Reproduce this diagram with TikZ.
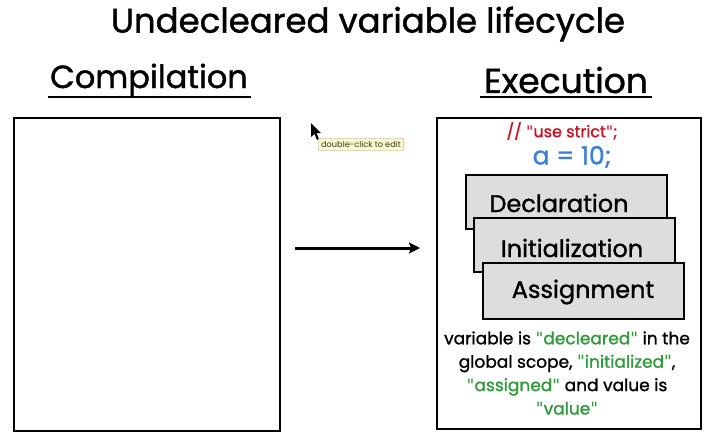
\documentclass[tikz,border=0pt]{standalone}
\usepackage{fontspec}
\setmainfont{Poppins}[FakeBold=1.2]
\newfontfamily\tipfont{Poppins}
\newfontfamily\qfont{DejaVu Sans}
\newcommand\dq{{\qfont"}}
\usetikzlibrary{arrows.meta}
\definecolor{jsred}{HTML}{C8101E}
\definecolor{jsblue}{HTML}{3A7FD9}
\definecolor{jsgreen}{HTML}{2E9A3A}
\definecolor{boxgray}{HTML}{DDDDDD}
\definecolor{tipfill}{HTML}{FCFCCB}
\tikzset{
  panel/.style={draw=black, line width=1.6pt, fill=white},
  stagebox/.style={draw=black, line width=1.8pt, fill=boxgray, minimum width=201pt, minimum height=54pt, inner sep=0pt, anchor=north west},
  stagelabel/.style={font=\fontsize{24}{28}\selectfont, inner sep=0pt},
}
\begin{document}
\begin{tikzpicture}[x=1pt,y=-1pt]
\useasboundingbox[fill=white] (0,0) rectangle (719,440);
% title
\node[font=\fontsize{34}{38}\selectfont, inner sep=0pt] (title) at (368,24) {Undecleared variable lifecycle};
% headings
\node[font=\fontsize{32}{36}\selectfont, inner sep=0pt] (comp) at (149,80) {Compilation};
\node[font=\fontsize{34.5}{38}\selectfont, inner sep=0pt] (exec) at (566,80) {Execution};
\coordinate (cul1) at (48,97); \coordinate (cul2) at (251,97);
\coordinate (eul1) at (480,97); \coordinate (eul2) at (652,97);
\draw[line width=1.8pt] (cul1) -- (cul2);
\draw[line width=1.8pt] (eul1) -- (eul2);
% panels
\node[panel, minimum width=266pt, minimum height=313pt, anchor=north west, inner sep=0pt] (left) at (13,117) {};
\node[panel, minimum width=264pt, minimum height=311pt, anchor=north west, inner sep=0pt] (right) at (436,117) {};
% arrow
\coordinate (a1) at (295,248);
\coordinate (a2) at (420,248);
\draw[line width=3pt, -{Stealth[length=11pt,width=11pt,inset=2pt]}] (a1) -- (a2);
% code text
\node[text=jsred, font=\fontsize{16}{19}\selectfont, inner sep=0pt] (strict) at (562,131) {// \dq use strict\dq;};
\node[text=jsblue, font=\fontsize{25}{28}\selectfont, inner sep=0pt] (assign) at (572,157) {a = 10;};
% stacked boxes
\node[stagebox] (decl) at (465,174) {};
\node[stagebox] (init) at (473,217) {};
\node[stagebox, minimum height=56pt] (asg) at (482,262) {};
\node[stagelabel] (decll) at (559,203) {Declaration};
\node[stagelabel] (initl) at (572,248) {Initialization};
\node[stagelabel] (asgl) at (583,292) {Assignment};
% description
\node[font=\fontsize{17}{23.4}\selectfont, align=center, inner sep=0pt] (desc) at (567,373)
 {variable is \textcolor{jsgreen}{\dq decleared\dq} in the\\
  global scope, \textcolor{jsgreen}{\dq initialized\dq},\\
  \textcolor{jsgreen}{\dq assigned\dq} and value is\\
  \textcolor{jsgreen}{\dq value\dq}};
% cursor and tooltip
\fill[black] (311,123) -- (311,137) -- (314.5,134) -- (317,140) -- (319,139) -- (316.5,133) -- (321,133) -- cycle;
\node[draw=black!40, fill=tipfill, line width=0.4pt, font=\tipfont\fontsize{8.2}{9}\selectfont, text=black!80, inner xsep=3pt, inner ysep=3pt, anchor=north west, rounded corners=1pt] (tip) at (318,138) {double-click to edit};
\end{tikzpicture}
\end{document}
